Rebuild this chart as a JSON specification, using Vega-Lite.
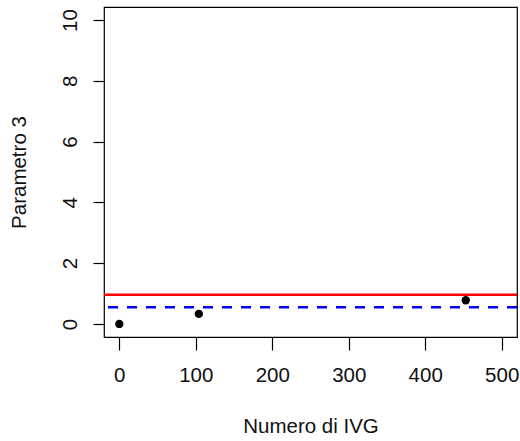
{
  "$schema": "https://vega.github.io/schema/vega-lite/v6.json",
  "width": 413,
  "height": 330,
  "autosize": "none",
  "padding": {"left": 104, "top": 7, "right": 3, "bottom": 104},
  "background": "white",
  "config": {
    "view": {"stroke": "black", "strokeWidth": 1.2},
    "font": "Liberation Sans",
    "axis": {
      "domain": false,
      "grid": false,
      "tickColor": "black",
      "tickWidth": 1.2,
      "labelFont": "Liberation Sans",
      "titleFont": "Liberation Sans",
      "labelFontSize": 20.5,
      "titleFontSize": 20.5,
      "labelColor": "#111",
      "titleColor": "#111",
      "titleFontWeight": "normal"
    }
  },
  "datasets": {
    "pts": [
      {"ivg": 0, "param": 0.0},
      {"ivg": 104, "param": 0.33},
      {"ivg": 453, "param": 0.78}
    ],
    "refs": [
      {"name": "soglia", "value": 0.96},
      {"name": "media", "value": 0.55}
    ]
  },
  "layer": [
    {
      "data": {"name": "refs"},
      "transform": [{"filter": "datum.name === 'soglia'"}],
      "mark": {"type": "rule", "color": "#ff0000", "strokeWidth": 2.5},
      "encoding": {"y": {"field": "value", "type": "quantitative"}}
    },
    {
      "data": {"name": "refs"},
      "transform": [{"filter": "datum.name === 'media'"}],
      "mark": {"type": "rule", "color": "#0000ff", "strokeWidth": 2.5, "strokeDash": [10, 9]},
      "encoding": {"y": {"field": "value", "type": "quantitative"}}
    },
    {
      "data": {"name": "pts"},
      "mark": {"type": "point", "filled": true, "color": "black", "opacity": 1, "size": 70},
      "encoding": {
        "x": {
          "field": "ivg",
          "type": "quantitative",
          "scale": {"domain": [-20, 520], "nice": false, "zero": false},
          "axis": {
            "title": "Numero di IVG",
            "values": [0, 100, 200, 300, 400, 500],
            "tickSize": 13,
            "labelPadding": 15,
            "labelFlush": false,
            "labelOverlap": false,
            "titleBaseline": "alphabetic",
            "titleY": 95
          }
        },
        "y": {
          "field": "param",
          "type": "quantitative",
          "scale": {"domain": [-0.43, 10.43], "nice": false, "zero": false},
          "axis": {
            "title": "Parametro 3",
            "values": [0, 2, 4, 6, 8, 10],
            "tickSize": 11,
            "labelAngle": -90,
            "labelAlign": "center",
            "labelBaseline": "bottom",
            "labelPadding": 13,
            "labelFlush": false,
            "labelOverlap": false,
            "titleAngle": -90,
            "titleBaseline": "alphabetic",
            "titleAlign": "center",
            "titleX": -79,
            "titleY": 165
          }
        }
      }
    }
  ]
}
